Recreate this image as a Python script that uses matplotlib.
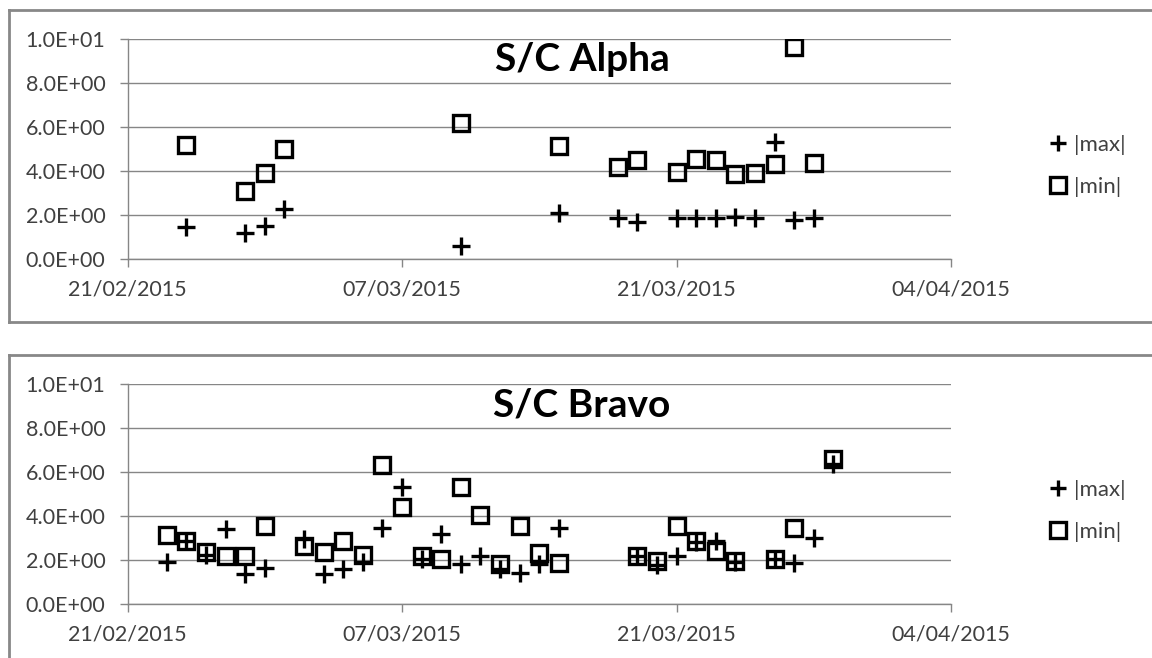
import datetime as dt

import matplotlib
matplotlib.use("Agg")
import matplotlib.pyplot as plt
import matplotlib.dates as mdates
from matplotlib.lines import Line2D
from matplotlib.ticker import FuncFormatter

plt.rcParams["font.family"] = ["Lato", "DejaVu Sans"]


def d(s):
    return dt.datetime.strptime(s + "/2015", "%d/%m/%Y")


# S/C Alpha
ALPHA_DATES = ["24/02", "27/02", "28/02", "01/03", "10/03", "15/03", "18/03", "19/03",
               "21/03", "22/03", "23/03", "24/03", "25/03", "26/03", "27/03", "28/03"]
ALPHA_MAX = [1.47, 1.17, 1.52, 2.27, 0.57, 2.07, 1.85, 1.70,
             1.85, 1.85, 1.85, 1.92, 1.85, 5.30, 1.77, 1.85]
ALPHA_MIN = [5.20, 3.10, 3.90, 5.02, 6.20, 5.13, 4.18, 4.48,
             3.95, 4.56, 4.48, 3.88, 3.92, 4.33, 9.64, 4.36]

# S/C Bravo
BRAVO_MAX_DATES = ["23/02", "24/02", "25/02", "26/02", "27/02", "28/02", "02/03", "03/03",
                   "04/03", "05/03", "06/03", "07/03", "08/03", "09/03", "10/03", "11/03",
                   "12/03", "13/03", "14/03", "15/03", "19/03", "20/03", "21/03", "22/03",
                   "23/03", "24/03", "26/03", "27/03", "28/03", "29/03"]
BRAVO_MAX = [1.90, 2.85, 2.25, 3.41, 1.35, 1.65, 2.96, 1.38,
             1.58, 1.90, 3.45, 5.33, 2.05, 3.20, 1.80, 2.20,
             1.58, 1.40, 1.80, 3.45, 2.18, 1.77, 2.18, 2.80,
             2.85, 1.90, 2.06, 1.88, 3.00, 6.38]
BRAVO_MIN_DATES = ["23/02", "24/02", "25/02", "26/02", "27/02", "28/02", "02/03", "03/03",
                   "04/03", "05/03", "06/03", "07/03", "08/03", "09/03", "10/03", "11/03",
                   "12/03", "13/03", "14/03", "15/03", "19/03", "20/03", "21/03", "22/03",
                   "23/03", "24/03", "26/03", "27/03", "29/03"]
BRAVO_MIN = [3.15, 2.85, 2.36, 2.18, 2.20, 3.53, 2.63, 2.36,
             2.85, 2.25, 6.30, 4.43, 2.20, 2.06, 5.33, 4.05,
             1.80, 3.53, 2.30, 1.85, 2.18, 1.95, 3.53, 2.85,
             2.40, 1.95, 2.06, 3.45, 6.60]

X_TICKS = ["21/02", "07/03", "21/03", "04/04"]
Y_TICKS = [0, 2, 4, 6, 8, 10]

GRID = "#868686"
TEXT = "#404040"
W, H = 1152, 658


def fx(px):
    return px / W


def fy(py):
    return 1 - py / H


def draw_panel(ax, max_dates, max_vals, min_dates, min_vals):
    ax.plot([d(s) for s in max_dates], max_vals, ls="none", marker="+",
            ms=12.5, mew=2.4, color="black", label="|max|")
    ax.plot([d(s) for s in min_dates], min_vals, ls="none", marker="s",
            ms=11.5, mew=2.4, mfc="none", mec="black", label="|min|")
    ax.set_xlim(d(X_TICKS[0]), d(X_TICKS[-1]))
    ax.set_ylim(0, 10)
    ax.set_xticks([d(s) for s in X_TICKS])
    ax.xaxis.set_major_formatter(mdates.DateFormatter("%d/%m/%Y"))
    ax.set_yticks(Y_TICKS)
    ax.yaxis.set_major_formatter(FuncFormatter(lambda v, p: f"{v:.1E}"))
    ax.grid(axis="y", color=GRID, lw=1.0)
    ax.set_axisbelow(True)
    for side in ("top", "right"):
        ax.spines[side].set_visible(False)
    for side in ("left", "bottom"):
        ax.spines[side].set_color(GRID)
        ax.spines[side].set_linewidth(1.0)
    ax.tick_params(axis="both", colors=GRID, labelcolor=TEXT, labelsize=15.5,
                   length=6, width=1.0)
    ax.tick_params(axis="y", pad=10)
    ax.tick_params(axis="x", pad=9)
    ax.patch.set_alpha(0)


def panel_frame(fig, top, bottom=None):
    kw = dict(color="#888888", lw=2.0, transform=fig.transFigure)
    x_end = 1.01
    fig.add_artist(Line2D([fx(9), x_end], [fy(top), fy(top)], **kw))
    y_low = fy(bottom) if bottom is not None else -0.01
    fig.add_artist(Line2D([fx(9), fx(9)], [y_low, fy(top)], **kw))
    if bottom is not None:
        fig.add_artist(Line2D([fx(9), x_end], [fy(bottom), fy(bottom)], **kw))


fig = plt.figure(figsize=(W / 100, H / 100), dpi=100)

panels = [
    ("S/C Alpha", 39, ALPHA_DATES, ALPHA_MAX, ALPHA_DATES, ALPHA_MIN, 10, 322),
    ("S/C Bravo", 384, BRAVO_MAX_DATES, BRAVO_MAX, BRAVO_MIN_DATES, BRAVO_MIN, 355, None),
]

for title, top_px, mx_d, mx_v, mn_d, mn_v, frame_top, frame_bot in panels:
    panel_frame(fig, frame_top, frame_bot)
    ax = fig.add_axes([fx(127.5), fy(top_px + 220), fx(951 - 127.5), 220 / H])
    draw_panel(ax, mx_d, mx_v, mn_d, mn_v)
    fig.text(fx(582), fy(top_px + 32), title, ha="center", va="baseline",
             fontsize=28, fontweight="bold", color="black")
    ax.legend(loc="center left", bbox_to_anchor=(fx(1036), fy(top_px + 127)),
              bbox_transform=fig.transFigure, frameon=False, fontsize=16,
              labelcolor=TEXT, handlelength=1.0, handletextpad=0.2,
              labelspacing=1.0, borderpad=0, markerscale=0.95)

fig.savefig("out.png", dpi=100)
